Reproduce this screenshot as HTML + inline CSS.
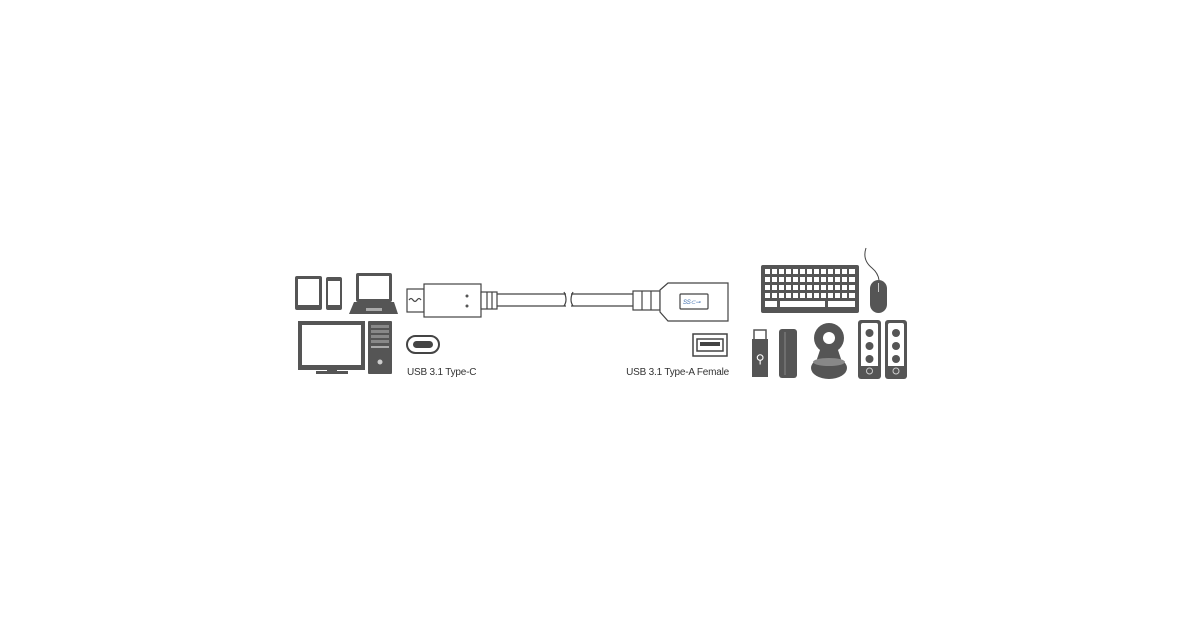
<!DOCTYPE html>
<html><head><meta charset="utf-8"><style>
html,body{margin:0;padding:0;background:#fff;width:1200px;height:630px;overflow:hidden}
svg{display:block}
text{font-family:"Liberation Sans",sans-serif;font-size:10px;fill:#333;letter-spacing:-0.2px}
</style></head><body>
<svg width="1200" height="630" viewBox="0 0 1200 630">
<g fill="#555">
<rect x="295" y="276" width="27" height="34" rx="2"/>
<rect x="298" y="279" width="21" height="26" fill="#fff"/>
<rect x="326" y="277" width="16" height="33" rx="2"/>
<rect x="328" y="281" width="12" height="24" fill="#fff"/>
<rect x="356" y="273" width="36" height="29" rx="2"/>
<rect x="359" y="276" width="30" height="23" fill="#fff"/>
<path d="M354 302 H394 L398 314 H349 Z"/>
<rect x="366" y="308" width="16" height="3" fill="#aaa"/>
<rect x="298" y="321" width="67" height="49"/>
<rect x="302" y="325" width="59" height="40" fill="#fff"/>
<rect x="327" y="369" width="10" height="3"/>
<rect x="316" y="371" width="32" height="3"/>
<rect x="368" y="321" width="24" height="53" rx="1"/>
<rect x="371" y="325" width="18" height="3" fill="#888"/>
<rect x="371" y="330" width="18" height="3" fill="#888"/>
<rect x="371" y="335" width="18" height="3" fill="#888"/>
<rect x="371" y="340" width="18" height="3" fill="#888"/>
<rect x="371" y="346" width="18" height="2" fill="#aaa"/>
<circle cx="380" cy="362" r="2.5" fill="#ccc"/>
</g>
<g fill="#fff" stroke="#444" stroke-width="1.2">
<rect x="407" y="289" width="17" height="23"/>
<path d="M409 300 q2 -3 4 0 t4 0 t4 0" fill="none"/>
<rect x="424" y="284" width="57" height="33"/>
<rect x="481" y="292" width="16" height="17"/>
<path d="M497 294 H566 M497 306 H566 M571 294 H636 M571 306 H636" fill="none"/>
<path d="M564 292 q4 8 0 14 M573 292 q-4 8 0 14" fill="none"/>
<line x1="487" y1="292" x2="487" y2="309"/><line x1="492" y1="292" x2="492" y2="309"/>
</g>
<circle cx="467" cy="296" r="1.5" fill="#555"/>
<circle cx="467" cy="306" r="1.5" fill="#555"/>
<g fill="#fff" stroke="#444" stroke-width="1.2">
<rect x="633" y="291" width="27" height="19"/>
<line x1="642" y1="291" x2="642" y2="310"/><line x1="651" y1="291" x2="651" y2="310"/>
<path d="M660 290 L668 283 H728 V321 H668 L660 312 Z"/>
<rect x="680" y="294" width="28" height="15" rx="1"/>
</g>
<text x="683" y="304" style="font-size:6px;fill:#3366aa;font-style:italic">SS⊂⊸</text>
<rect x="407" y="336" width="32" height="17" rx="8.5" fill="#fff" stroke="#444" stroke-width="2"/>
<rect x="413" y="341" width="20" height="7" rx="3.5" fill="#444"/>
<rect x="693" y="334" width="34" height="22" fill="#fff" stroke="#444" stroke-width="1.5"/>
<rect x="697" y="339" width="26" height="12" fill="#fff" stroke="#444" stroke-width="1.5"/>
<rect x="700" y="342" width="20" height="4" fill="#444"/>
<text x="407" y="375">USB 3.1 Type-C</text>
<text x="729" y="375" text-anchor="end">USB 3.1 Type-A Female</text>
<rect x="761" y="265" width="98" height="48" rx="2" fill="#555"/>
<g fill="#fff">
<g id="row"><rect x="765" y="269" width="5" height="5"/><rect x="772" y="269" width="5" height="5"/><rect x="779" y="269" width="5" height="5"/><rect x="786" y="269" width="5" height="5"/><rect x="793" y="269" width="5" height="5"/><rect x="800" y="269" width="5" height="5"/><rect x="807" y="269" width="5" height="5"/><rect x="814" y="269" width="5" height="5"/><rect x="821" y="269" width="5" height="5"/><rect x="828" y="269" width="5" height="5"/><rect x="835" y="269" width="5" height="5"/><rect x="842" y="269" width="5" height="5"/><rect x="849" y="269" width="6" height="5"/></g>
<use href="#row" y="8"/><use href="#row" y="16"/><use href="#row" y="24"/>
<rect x="765" y="301" width="12" height="6"/><rect x="780" y="301" width="45" height="6"/><rect x="828" y="301" width="27" height="6"/>
</g>
<path d="M866 248 q-4 12 6 20 q6 5 7 12" fill="none" stroke="#444" stroke-width="1"/>
<rect x="870" y="280" width="17" height="33" rx="8.5" fill="#555"/>
<line x1="878.5" y1="283" x2="878.5" y2="292" stroke="#ccc" stroke-width="1"/>
<rect x="754" y="330" width="12" height="10" fill="#fff" stroke="#555" stroke-width="1.5"/>
<rect x="752" y="339" width="16" height="38" fill="#555"/>
<text x="760" y="363" text-anchor="middle" style="font-size:12px;fill:#fff">⚲</text>
<rect x="779" y="329" width="18" height="49" rx="3" fill="#555"/>
<line x1="785" y1="332" x2="785" y2="375" stroke="#888"/>
<circle cx="829" cy="338" r="15" fill="#555"/>
<circle cx="829" cy="338" r="6" fill="#fff"/>
<path d="M820 350 L816 362 H842 L838 350 Z" fill="#555"/>
<ellipse cx="829" cy="368" rx="18" ry="11" fill="#555"/>
<ellipse cx="829" cy="362" rx="16" ry="4" fill="#888"/>
<g fill="#555">
<rect x="858" y="320" width="23" height="59" rx="3"/>
<rect x="885" y="320" width="22" height="59" rx="3"/>
</g>
<g fill="#fff">
<rect x="861" y="323" width="17" height="53" rx="2"/><rect x="888" y="323" width="16" height="53" rx="2"/>
</g>
<g fill="#555">
<circle cx="869.5" cy="333" r="4"/><circle cx="869.5" cy="346" r="4"/><circle cx="869.5" cy="359" r="4"/>
<circle cx="896" cy="333" r="4"/><circle cx="896" cy="346" r="4"/><circle cx="896" cy="359" r="4"/>
<rect x="861" y="366" width="17" height="10"/><rect x="888" y="366" width="16" height="10"/>
</g>
<circle cx="869.5" cy="371" r="3" fill="none" stroke="#ccc"/>
<circle cx="896" cy="371" r="3" fill="none" stroke="#ccc"/>
</svg>
</body></html>
